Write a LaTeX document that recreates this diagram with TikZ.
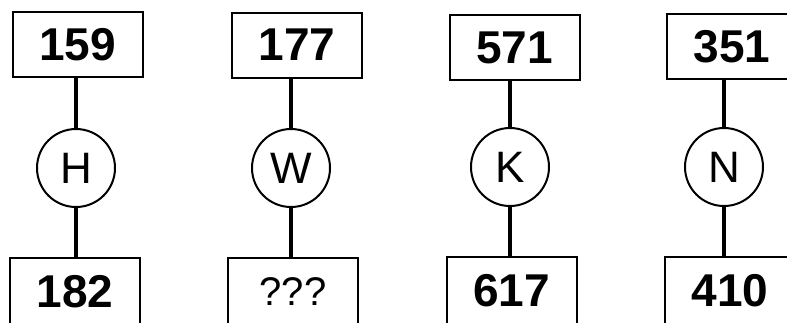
\documentclass[tikz,border=0pt]{standalone}
\usepackage{fontspec}
\setsansfont{Liberation Sans}
\usetikzlibrary{positioning}
\tikzset{
  % number boxes and letter circles
  numbox/.style = {rectangle, draw=black, line width=2pt, minimum width=130pt,
                   minimum height=#1, inner sep=0pt,
                   font=\fontsize{46}{50}\selectfont\sffamily\bfseries},
  numbox/.default = 65pt,
  askbox/.style = {numbox=68pt, font=\fontsize{40}{44}\selectfont\sffamily},
  letter/.style = {circle, draw=black, line width=2pt, minimum size=78pt, inner sep=0pt,
                   font=\fontsize{44}{48}\selectfont\sffamily},
  lane/.style   = {line width=3.5pt, black},
}
\begin{document}
\begin{tikzpicture}[x=1pt,y=-1pt]
\useasboundingbox (0,0) rectangle (787,322);
\clip (0,0) rectangle (787,322);
% top row
\node[numbox] (t1) at (77.5,44.5) {159};
\node[numbox] (t2) at (297,45) {177};
\node[numbox] (t3) at (514.5,47.5) {571};
\node[numbox] (t4) at (732,46.5) {351};
% letters
\node[letter] (c1) at (76,168) {H};
\node[letter] (c2) at (291,168) {W};
\node[letter] (c3) at (510,167) {K};
\node[letter] (c4) at (724,167) {N};
% bottom row
\node[numbox=68pt] (b1) at (75,292) {182};
\node[askbox] (b2) at (293,292) {???};
\node[numbox=68pt] (b3) at (511.5,291) {617};
\node[numbox=68pt] (b4) at (730,291) {410};
% connectors
\foreach \i in {1,...,4} {
  \draw[lane] (c\i |- t\i.south) -- (c\i.north);
  \draw[lane] (c\i.south) -- (c\i |- b\i.north);
}
\end{tikzpicture}
\end{document}
